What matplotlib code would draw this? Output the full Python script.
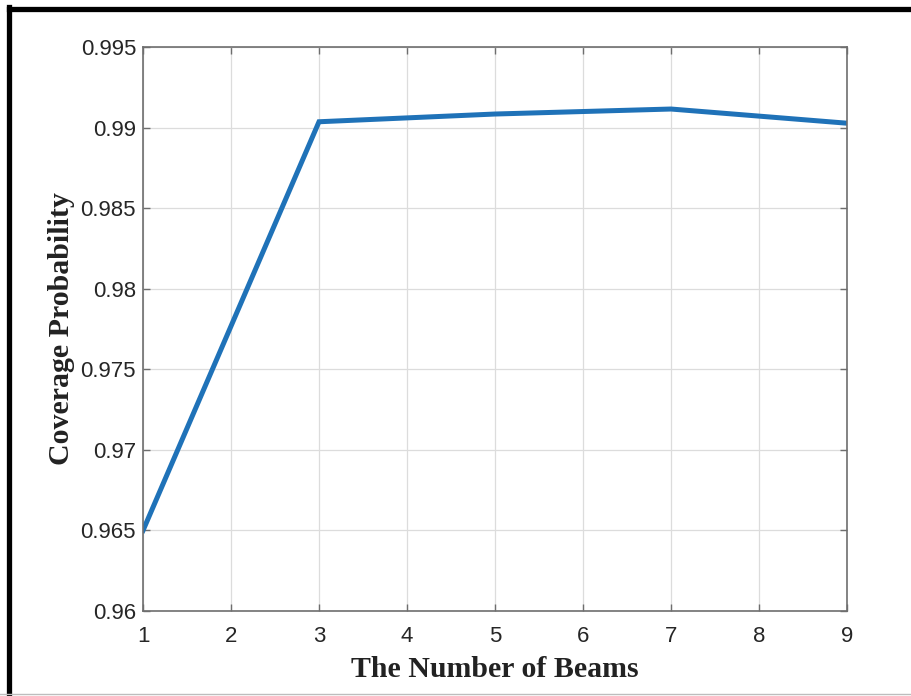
import matplotlib.pyplot as plt
from matplotlib.lines import Line2D

# coverage probability against number of beams
beams = [1, 3, 5, 7, 9]
coverage = [0.9650, 0.99036, 0.99084, 0.99115, 0.99027]

xticks = [1, 2, 3, 4, 5, 6, 7, 8, 9]
yticks = [0.96, 0.965, 0.97, 0.975, 0.98, 0.985, 0.99, 0.995]
ytick_labels = ["0.96", "0.965", "0.97", "0.975", "0.98", "0.985", "0.99", "0.995"]

fig = plt.figure(figsize=(9.11, 6.96), dpi=100)
ax = fig.add_axes([0.157, 0.1221, 0.7727, 0.8104])

ax.plot(beams, coverage, color="#1f72b8", linewidth=3.6, solid_joinstyle="miter")

ax.set_xlim(1, 9)
ax.set_ylim(0.96, 0.995)
ax.set_xticks(xticks)
ax.set_yticks(yticks)
ax.set_yticklabels(ytick_labels)

ax.grid(True, color="#dcdcdc", linewidth=0.9)
ax.set_axisbelow(True)
for s in ax.spines.values():
    s.set_color("#6e6e6e")
    s.set_linewidth(1.2)
ax.tick_params(direction="in", length=5, width=1, color="#6e6e6e",
               top=True, right=True, labelsize=16, labelcolor="#262626")
ax.tick_params(axis="x", pad=11)
ax.tick_params(axis="y", pad=5)
for lab in ax.get_xticklabels() + ax.get_yticklabels():
    lab.set_family("Liberation Sans")

ax.set_xlabel("The Number of Beams", family="Liberation Serif", fontweight="bold",
              fontsize=21.5, color="#222222", labelpad=6)
ax.set_ylabel("Coverage Probability", family="Liberation Serif", fontweight="bold",
              fontsize=21.5, color="#222222", labelpad=4)

# black frame around the figure (top and left edges), thin grey line at the bottom
fig.add_artist(Line2D([8.5 / 911, 1.0], [1 - 8.5 / 696] * 2, transform=fig.transFigure,
                      color="black", linewidth=3.8))
fig.add_artist(Line2D([8.5 / 911] * 2, [0.0, 1 - 6.5 / 696], transform=fig.transFigure,
                      color="black", linewidth=3.8))
fig.add_artist(Line2D([0.0, 1.0], [2 / 696] * 2, transform=fig.transFigure,
                      color="#bdbdbd", linewidth=1.0))

fig.savefig("out.png", dpi=100)
